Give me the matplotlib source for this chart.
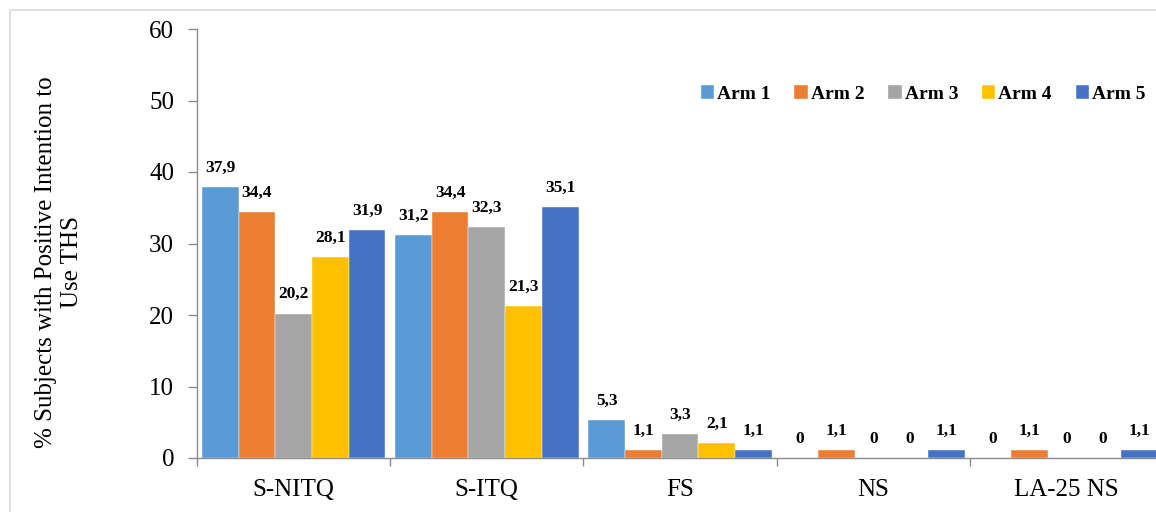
import matplotlib
matplotlib.use("Agg")
import matplotlib.pyplot as plt
import numpy as np
from matplotlib.patches import Rectangle

categories = ["S-NITQ", "S-ITQ", "FS", "NS", "LA-25 NS"]
series_names = ["Arm 1", "Arm 2", "Arm 3", "Arm 4", "Arm 5"]
arm1 = [37.9, 31.2, 5.3, 0, 0]
arm2 = [34.4, 34.4, 1.1, 1.1, 1.1]
arm3 = [20.2, 32.3, 3.3, 0, 0]
arm4 = [28.1, 21.3, 2.1, 0, 0]
arm5 = [31.9, 35.1, 1.1, 1.1, 1.1]
series = [arm1, arm2, arm3, arm4, arm5]
colors = ["#5B9BD5", "#ED7D31", "#A5A5A5", "#FFC000", "#4472C4"]
yticks = [0, 10, 20, 30, 40, 50, 60]

plt.rcParams['font.family'] = ['Liberation Serif', 'DejaVu Serif']

W, H = 1156, 512
fig = plt.figure(figsize=(W / 100, H / 100), dpi=100)
fig.patches.append(Rectangle((10 / W, -0.1), 1.2, (512 - 10) / H + 0.1,
                             transform=fig.transFigure, fill=False,
                             edgecolor="#D9D9D9", linewidth=1.2))

left, right, bottom, top = 197, 1163, 458, 29
ax = fig.add_axes([left / W, (H - bottom) / H, (right - left) / W, (bottom - top) / H])

n = len(series)
bw = 0.19
x = np.arange(len(categories)) + 0.5
for i, (vals, c, name) in enumerate(zip(series, colors, series_names)):
    pos = x + (i - (n - 1) / 2) * bw
    ax.bar(pos, vals, width=bw, color=c, label=name, edgecolor="white", linewidth=0.3)
    for p, v in zip(pos, vals):
        txt = f"{v:g}".replace(".", ",")
        ax.annotate(txt, (p, v), xytext=(0, 11), textcoords="offset points",
                    ha="center", va="baseline", fontsize=12.5, fontweight="bold")

ax.set_xlim(0, len(categories))
ax.set_ylim(0, 60)
ax.set_yticks(yticks)
ax.tick_params(axis="y", labelsize=18, length=6.5, width=1, color="#8C8C8C", pad=10)

ax.set_xticks(np.arange(len(categories) + 1))
ax.set_xticklabels([])
ax.set_xticks(x, minor=True)
ax.set_xticklabels(categories, minor=True)
ax.tick_params(axis="x", which="major", length=6, width=1, color="#8C8C8C")
ax.tick_params(axis="x", which="minor", length=0, labelsize=18, pad=15)

for s in ["top", "right"]:
    ax.spines[s].set_visible(False)
for s in ["left", "bottom"]:
    ax.spines[s].set_color("#8C8C8C")
    ax.spines[s].set_linewidth(1)

fig.text(59 / W, (H - 262) / H, "% Subjects with Positive Intention to\nUse THS",
         rotation=90, ha="center", va="center", multialignment="center",
         fontsize=18, linespacing=1.25)

leg = ax.legend(loc="center left", bbox_to_anchor=(683 / W, (H - 94) / H),
                bbox_transform=fig.transFigure, ncol=5, frameon=False,
                handlelength=0.7, handleheight=0.7, handletextpad=0.15,
                columnspacing=1.22, prop={"weight": "bold", "size": 14})

fig.savefig("out.png", dpi=100)
